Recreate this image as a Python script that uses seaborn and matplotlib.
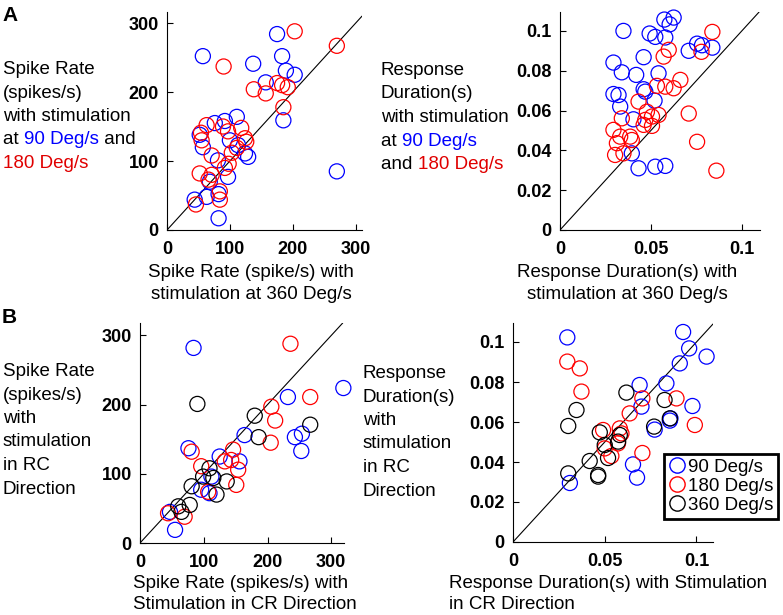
"""
Scatter comparison of spike rate and response duration across stimulation
speeds (panel A) and stimulation directions (panel B).
"""

import matplotlib
matplotlib.use("Agg")  # No display available
import matplotlib.pyplot as plt  # Import matplotlib for plotting
from matplotlib.lines import Line2D  # Legend handles
import pandas as pd  # Import pandas for tables
import seaborn as sns  # Import seaborn for the scatter plots

# ---------------------------------------------------------------------------
# Data
# ---------------------------------------------------------------------------

# Panel A left: spike rate at 360 Deg/s (x) vs 90 / 180 Deg/s (y)
a_rate_90_x = [57, 175, 183, 137, 189, 203, 157, 185, 270, 111, 92, 76, 52,
               57, 113, 124, 129, 81, 97, 68, 82, 44, 63, 82, 100]
a_rate_90_y = [252, 284, 252, 241, 231, 225, 214, 159, 85, 164, 158, 155, 138,
               120, 123, 111, 106, 101, 77, 70, 52, 44, 48, 17, 130]
a_rate_180_x = [203, 270, 90, 138, 157, 175, 183, 192, 185, 54, 55, 63, 97,
                118, 124, 111, 103, 71, 52, 71, 66, 84, 84, 46, 92, 98, 89, 126]
a_rate_180_y = [288, 267, 237, 204, 198, 213, 210, 207, 178, 141, 130, 152, 143,
                148, 133, 119, 112, 108, 82, 80, 73, 56, 44, 37, 90, 96, 150, 128]

# Panel A right: response duration at 360 Deg/s (x) vs 90 / 180 Deg/s (y)
a_dur_90_x = [0.0349, 0.0493, 0.0524, 0.0579, 0.0574, 0.0625, 0.0603, 0.0708,
              0.0754, 0.0781, 0.0838, 0.0294, 0.0340, 0.0419, 0.0460, 0.0542,
              0.0294, 0.0322, 0.0331, 0.0460, 0.0469, 0.0520, 0.0404, 0.0395,
              0.0432, 0.0524, 0.0579]
a_dur_90_y = [0.1000, 0.0987, 0.0970, 0.0967, 0.1057, 0.1067, 0.1033, 0.0900,
              0.0936, 0.0928, 0.0916, 0.0841, 0.0792, 0.0779, 0.0868, 0.0787,
              0.0683, 0.0678, 0.0620, 0.0707, 0.0695, 0.0650, 0.0556, 0.0385,
              0.0310, 0.0318, 0.0322]
a_dur_180_x = [0.0838, 0.0778, 0.0708, 0.0754, 0.0860, 0.0598, 0.0570, 0.0533,
               0.0579, 0.0625, 0.0662, 0.0432, 0.0478, 0.0506, 0.0542, 0.0469,
               0.0460, 0.0340, 0.0294, 0.0331, 0.0313, 0.0395, 0.0303, 0.0349,
               0.0386, 0.0506]
a_dur_180_y = [0.0995, 0.0895, 0.0585, 0.0443, 0.0298, 0.0905, 0.0871, 0.0724,
               0.0720, 0.0712, 0.0754, 0.0645, 0.0594, 0.0570, 0.0578, 0.0553,
               0.0528, 0.0561, 0.0503, 0.0469, 0.0436, 0.0452, 0.0377, 0.0385,
               0.0469, 0.0523]

# Panel B left: spike rate in CR direction (x) vs RC direction (y)
b_rate_90_x = [84, 319, 232, 243, 254, 253, 76, 164, 125, 156, 112, 96, 109, 47, 55]
b_rate_90_y = [282, 224, 211, 153, 158, 133, 137, 156, 125, 118, 96, 77, 72, 45, 19]
b_rate_180_x = [236, 267, 206, 212, 205, 81, 146, 143, 154, 133, 96, 151, 107, 44, 70]
b_rate_180_y = [288, 211, 197, 177, 145, 132, 135, 120, 106, 118, 111, 84, 74, 43, 38]
b_rate_360_x = [90, 180, 186, 267, 109, 115, 99, 136, 120, 81, 78, 60, 65]
b_rate_360_y = [201, 184, 153, 171, 108, 94, 96, 89, 70, 82, 55, 53, 45]

# Panel B right: response duration in CR direction (x) vs RC direction (y)
b_dur_90_x = [0.0296, 0.0927, 0.0960, 0.1055, 0.0909, 0.0690, 0.0836, 0.0978,
              0.0700, 0.0858, 0.0855, 0.0772, 0.0654, 0.0676, 0.0310]
b_dur_90_y = [0.1023, 0.1050, 0.0968, 0.0927, 0.0893, 0.0785, 0.0793, 0.0680,
              0.0677, 0.0618, 0.0607, 0.0562, 0.0388, 0.0322, 0.0295]
b_dur_180_x = [0.0296, 0.0364, 0.0373, 0.0705, 0.0891, 0.0636, 0.0991, 0.0491,
               0.0582, 0.0591, 0.0572, 0.0500, 0.0536, 0.0705]
b_dur_180_y = [0.0902, 0.0868, 0.0752, 0.0718, 0.0718, 0.0643, 0.0585, 0.0560,
               0.0568, 0.0543, 0.0493, 0.0468, 0.0430, 0.0445]
b_dur_360_x = [0.0618, 0.0346, 0.0301, 0.0826, 0.0769, 0.0855, 0.0473, 0.0500,
               0.0582, 0.0573, 0.0518, 0.0418, 0.0464, 0.0464, 0.0301]
b_dur_360_y = [0.0747, 0.0660, 0.0580, 0.0710, 0.0577, 0.0618, 0.0548, 0.0485,
               0.0535, 0.0502, 0.0420, 0.0405, 0.0327, 0.0335, 0.0343]

SPEEDS = ["90 Deg/s", "180 Deg/s", "360 Deg/s"]  # Legend labels
PALETTE = {"90 Deg/s": "#0000ff", "180 Deg/s": "#ff0000", "360 Deg/s": "#000000"}

W, H = 783, 615  # Figure size in pixels


def to_frame(groups):
    """Build a long table from (label, xs, ys) tuples."""
    rows = []
    for label, xs, ys in groups:
        rows += [{"x": x, "y": y, "speed": label} for x, y in zip(xs, ys)]
    return pd.DataFrame(rows)


def px_rect(left, top, right, bottom):
    """Convert pixel box into figure fractions."""
    return [left / W, 1 - bottom / H, (right - left) / W, (bottom - top) / H]


def scatter_panel(ax, df, xlim, ylim, xticks, xlabels, yticks, ylabels):
    """Draw hollow circles, the unity line and MATLAB-like axes."""
    sns.scatterplot(data=df, x="x", y="y", hue="speed", palette=PALETTE,
                    hue_order=[s for s in SPEEDS if s in set(df["speed"])],
                    s=118, linewidth=0.9, legend=False, ax=ax, zorder=3)
    for coll in ax.collections:  # make circles hollow, not clipped at the frame
        coll.set_edgecolors(coll.get_facecolors())
        coll.set_facecolors("none")
        coll.set_clip_on(False)
    ax.axline((0, 0), slope=1, color="black", linewidth=0.8, zorder=2)
    ax.set_xlim(*xlim)
    ax.set_ylim(*ylim)
    ax.set_xticks(xticks)
    ax.set_xticklabels(xlabels, fontweight="bold", fontsize=13)
    ax.set_yticks(yticks)
    ax.set_yticklabels(ylabels, fontweight="bold", fontsize=13)
    ax.tick_params(axis="x", direction="in", length=4, width=0.8, pad=8,
                   colors="black")
    ax.tick_params(axis="y", direction="in", length=4, width=0.8, pad=6,
                   colors="black")
    ax.set_xlabel("")
    ax.set_ylabel("")
    for side in ["top", "right"]:
        ax.spines[side].set_visible(False)
    for side in ["left", "bottom"]:
        ax.spines[side].set_linewidth(0.8)
        ax.spines[side].set_color("black")


def colored_lines(fig, x_px, top_px, lines, step=23.5, size=13.5):
    """Write several lines of text, each made of coloured pieces."""
    renderer = fig.canvas.get_renderer()
    for i, parts in enumerate(lines):
        x = x_px / W
        y = 1 - (top_px + i * step) / H
        for text, color in parts:
            t = fig.text(x, y, text, color=color, fontsize=size, va="baseline")
            x += t.get_window_extent(renderer).width / fig.bbox.width


sns.set_style("ticks")
plt.rcParams["font.family"] = ["Liberation Sans", "DejaVu Sans"]
plt.rcParams["text.color"] = "black"

fig = plt.figure(figsize=(W / 100, H / 100), dpi=100)

# Panel A
ax_a1 = fig.add_axes(px_rect(167, 12, 362, 230))
scatter_panel(ax_a1,
              to_frame([("90 Deg/s", a_rate_90_x, a_rate_90_y),
                        ("180 Deg/s", a_rate_180_x, a_rate_180_y)]),
              (0, 310), (0, 316), [0, 100, 200, 300], ["0", "100", "200", "300"],
              [0, 100, 200, 300], ["0", "100", "200", "300"])

ax_a2 = fig.add_axes(px_rect(560, 12, 760, 230))
scatter_panel(ax_a2,
              to_frame([("90 Deg/s", a_dur_90_x, a_dur_90_y),
                        ("180 Deg/s", a_dur_180_x, a_dur_180_y)]),
              (0, 0.11), (0, 0.1095), [0, 0.05, 0.1], ["0", "0.05", "0.1"],
              [0, 0.02, 0.04, 0.06, 0.08, 0.1],
              ["0", "0.02", "0.04", "0.06", "0.08", "0.1"])

# Panel B
ax_b1 = fig.add_axes(px_rect(140, 323, 344, 543))
scatter_panel(ax_b1,
              to_frame([("90 Deg/s", b_rate_90_x, b_rate_90_y),
                        ("180 Deg/s", b_rate_180_x, b_rate_180_y),
                        ("360 Deg/s", b_rate_360_x, b_rate_360_y)]),
              (0, 320), (0, 318), [0, 100, 200, 300], ["0", "100", "200", "300"],
              [0, 100, 200, 300], ["0", "100", "200", "300"])

ax_b2 = fig.add_axes(px_rect(513, 323, 713, 542))
scatter_panel(ax_b2,
              to_frame([("90 Deg/s", b_dur_90_x, b_dur_90_y),
                        ("180 Deg/s", b_dur_180_x, b_dur_180_y),
                        ("360 Deg/s", b_dur_360_x, b_dur_360_y)]),
              (0, 0.109), (0, 0.1095), [0, 0.05, 0.1], ["0", "0.05", "0.1"],
              [0, 0.02, 0.04, 0.06, 0.08, 0.1],
              ["0", "0.02", "0.04", "0.06", "0.08", "0.1"])

# Legend with hollow circles and a heavy frame
handles = [Line2D([], [], marker="o", linestyle="none", markersize=11,
                  markerfacecolor="none", markeredgecolor=PALETTE[s],
                  markeredgewidth=1.0, label=s) for s in SPEEDS]
leg = ax_b2.legend(handles=handles, loc="upper left",
                   bbox_to_anchor=(664 / W, 1 - 454 / H),
                   bbox_transform=fig.transFigure, borderaxespad=0,
                   fontsize=13.5, handlelength=0.9, handletextpad=0.15,
                   borderpad=0.25, labelspacing=0.1, fancybox=False,
                   framealpha=1)
leg.get_frame().set_edgecolor("black")
leg.get_frame().set_linewidth(2.0)
for txt in leg.get_texts():
    txt.set_color("black")

# Panel letters
fig.text(2 / W, 1 - 6 / H, "A", fontsize=15, fontweight="bold", va="top")
fig.text(2 / W, 1 - 308 / H, "B", fontsize=15, fontweight="bold", va="top")

BLK, BLU, RED = "black", "#0000ff", "#e00000"

# Y axis labels (written beside each panel)
colored_lines(fig, 3, 74, [[("Spike Rate", BLK)], [("(spikes/s)", BLK)],
                           [("with stimulation", BLK)],
                           [("at ", BLK), ("90 Deg/s", BLU), (" and", BLK)],
                           [("180 Deg/s", RED)]])
colored_lines(fig, 381, 75, [[("Response", BLK)], [("Duration(s)", BLK)],
                             [("with stimulation", BLK)],
                             [("at ", BLK), ("90 Deg/s", BLU)],
                             [("and ", BLK), ("180 Deg/s", RED)]])
colored_lines(fig, 3, 376, [[("Spike Rate", BLK)], [("(spikes/s)", BLK)],
                            [("with", BLK)], [("stimulation", BLK)],
                            [("in RC", BLK)], [("Direction", BLK)]])
colored_lines(fig, 363, 378, [[("Response", BLK)], [("Duration(s)", BLK)],
                              [("with", BLK)], [("stimulation", BLK)],
                              [("in RC", BLK)], [("Direction", BLK)]])

# X axis labels
fig.text(251 / W, 1 - 264 / H, "Spike Rate (spike/s) with\nstimulation at 360 Deg/s",
         fontsize=13.5, ha="center", va="top", linespacing=1.35)
fig.text(627 / W, 1 - 264 / H, "Response Duration(s) with\nstimulation at 360 Deg/s",
         fontsize=13.5, ha="center", va="top", linespacing=1.35)
fig.text(133 / W, 1 - 575 / H, "Spike Rate (spikes/s) with\nStimulation in CR Direction",
         fontsize=13.5, ha="left", va="top", linespacing=1.3)
fig.text(449 / W, 1 - 575 / H, "Response Duration(s) with Stimulation\nin CR Direction",
         fontsize=13.5, ha="left", va="top", linespacing=1.3)

fig.savefig("out.png", dpi=100)
plt.close(fig)
